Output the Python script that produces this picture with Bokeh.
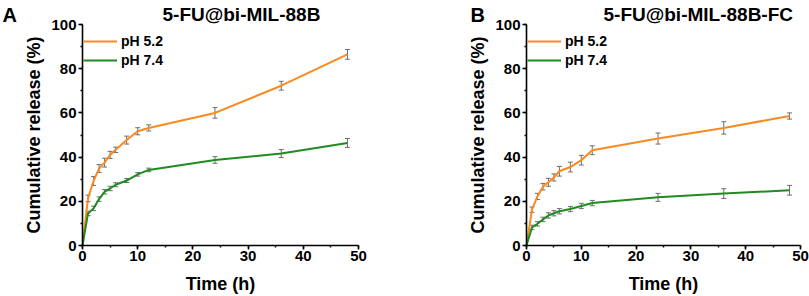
from bokeh.plotting import figure
from bokeh.layouts import row
from bokeh.models import (Range1d, SingleIntervalTicker, ColumnDataSource, Whisker,
                          TeeHead, Legend, LegendItem, Title)
from bokeh.embed import file_html
from bokeh.resources import INLINE

# ---- data ----
time_h = [0, 1, 2, 3, 4, 5, 6, 8, 10, 12, 24, 36, 48]

a_ph52 = [0, 21.3, 29.2, 34.8, 37.5, 41.0, 43.3, 47.7, 51.7, 53.2, 60.0, 72.3, 86.5]
a_ph52_err = [0, 1.5, 2.0, 1.8, 2.0, 1.6, 1.2, 1.8, 1.6, 1.4, 2.4, 2.0, 2.2]
a_ph74 = [0, 14.5, 16.8, 21.0, 24.3, 25.8, 27.5, 29.4, 32.2, 34.2, 38.7, 41.6, 46.4]
a_ph74_err = [0, 1.0, 1.0, 1.0, 1.0, 1.0, 0.9, 0.9, 0.8, 0.8, 1.5, 1.8, 2.0]

b_ph52 = [0, 16.2, 22.2, 26.6, 28.6, 30.8, 33.6, 35.5, 38.6, 43.1, 48.4, 53.2, 58.6]
b_ph52_err = [0, 1.2, 1.4, 1.5, 1.8, 1.6, 2.2, 2.2, 2.2, 2.0, 2.5, 2.8, 1.4]
b_ph74 = [0, 8.2, 9.8, 11.8, 13.6, 14.6, 15.5, 16.5, 17.9, 19.2, 21.8, 23.5, 25.0]
b_ph74_err = [0, 1.0, 1.0, 1.0, 1.2, 1.2, 1.2, 1.2, 1.2, 1.2, 1.8, 2.2, 2.2]

series_labels = ["pH 5.2", "pH 7.4"]
titles = ["5-FU@bi-MIL-88B", "5-FU@bi-MIL-88B-FC"]
panel_letters = ["A", "B"]
x_label = "Time (h)"
y_label = "Cumulative release (%)"

ORANGE = "#FA8A1E"
GREEN = "#1E8C1E"
ERR = "#6E6E6E"
FONT = "Liberation Sans"

H = 296
TOP = 24
BOTTOM = 50


def panel(width, left, right, title, letter, title_dx, letter_dx, s52, e52, s74, e74):
    p = figure(width=width, height=H, output_backend="svg", toolbar_location=None,
               x_range=Range1d(0, 50), y_range=Range1d(0, 100),
               min_border_left=left, min_border_right=right,
               min_border_top=TOP, min_border_bottom=BOTTOM)
    p.title.visible = False
    p.outline_line_color = None
    p.xgrid.visible = False
    p.ygrid.visible = False
    p.background_fill_color = "white"

    p.xaxis.ticker = SingleIntervalTicker(interval=10, num_minor_ticks=2)
    p.yaxis.ticker = SingleIntervalTicker(interval=20, num_minor_ticks=2)
    for ax in (p.xaxis, p.yaxis):
        ax.axis_line_width = 1.6
        ax.axis_line_color = "black"
        ax.major_tick_line_width = 1.6
        ax.minor_tick_line_width = 1.4
        ax.major_tick_in = 0
        ax.major_tick_out = 4
        ax.minor_tick_in = 0
        ax.minor_tick_out = 2
        ax.major_label_text_font = FONT
        ax.major_label_text_font_style = "bold"
        ax.major_label_text_font_size = "15px"
        ax.major_label_text_color = "black"
        ax.axis_label_text_font = FONT
        ax.axis_label_text_font_style = "bold"
        ax.axis_label_text_font_size = "18px"
        ax.axis_label_text_color = "black"
    p.xaxis.major_label_standoff = 1
    p.xaxis.axis_label_standoff = 10
    p.yaxis.major_label_standoff = 2
    p.yaxis.axis_label_standoff = 4
    p.xaxis.axis_label = x_label
    p.yaxis.axis_label = y_label

    items = []
    for vals, errs, col, lab in ((s52, e52, ORANGE, series_labels[0]),
                                 (s74, e74, GREEN, series_labels[1])):
        src = ColumnDataSource(dict(x=time_h, y=vals,
                                    lo=[v - e for v, e in zip(vals, errs)],
                                    hi=[v + e for v, e in zip(vals, errs)]))
        r = p.line("x", "y", source=src, line_color=col, line_width=2)
        w = Whisker(source=src, base="x", lower="lo", upper="hi",
                    line_color=ERR, line_width=1,
                    upper_head=TeeHead(size=5, line_color=ERR, line_width=1),
                    lower_head=TeeHead(size=5, line_color=ERR, line_width=1))
        p.add_layout(w)
        items.append(LegendItem(label=lab, renderers=[r]))

    fh = H - TOP - BOTTOM
    leg = Legend(items=items, location=(1, fh - 8 - 38), orientation="vertical",
                 margin=0, padding=0, spacing=1, glyph_width=34, glyph_height=18,
                 label_height=18, label_standoff=4,
                 label_text_font=FONT, label_text_font_style="bold",
                 label_text_font_size="14px", label_text_color="black",
                 border_line_color=None, background_fill_alpha=0)
    p.add_layout(leg, "center")

    p.add_layout(Title(text=title, align="left", offset=title_dx, standoff=0,
                       text_font=FONT, text_font_style="bold",
                       text_font_size="19px", text_color="black"), "above")
    p.add_layout(Title(text=letter, align="left", offset=letter_dx, standoff=-48,
                       text_font=FONT, text_font_style="bold",
                       text_font_size="20px", text_color="black"), "above")
    return p


p1 = panel(465, 82, 107, titles[0], panel_letters[0], 80, -80,
           a_ph52, a_ph52_err, a_ph74, a_ph74_err)
p2 = panel(344, 58, 9, titles[1], panel_letters[1], 77, -56,
           b_ph52, b_ph52_err, b_ph74, b_ph74_err)

layout = row(p1, p2)
open("out.html", "w").write(file_html(layout, INLINE))
